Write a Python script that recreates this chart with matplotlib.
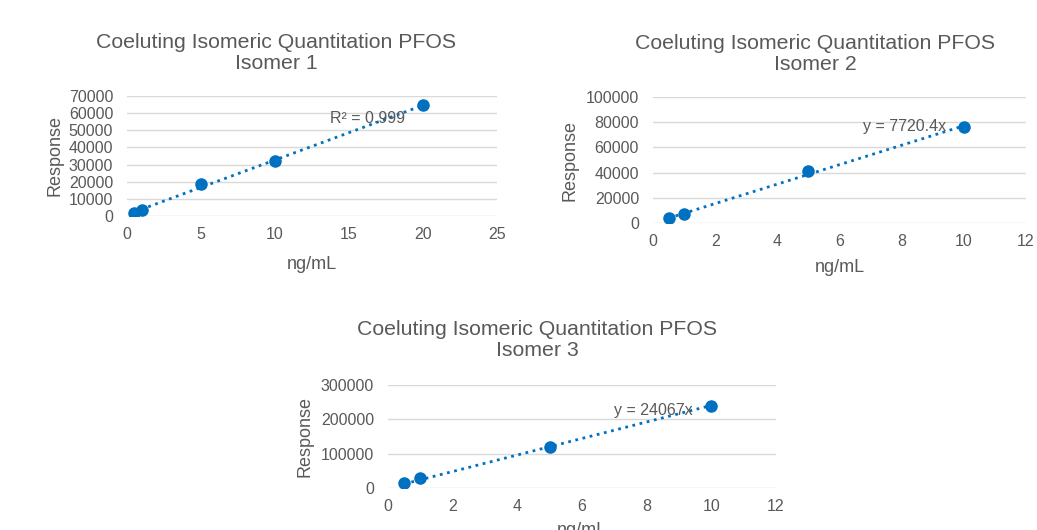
import numpy as np
import matplotlib
matplotlib.use('Agg')
import matplotlib.pyplot as plt

plt.rcParams['font.family'] = ['Liberation Sans', 'DejaVu Sans']

# data
conc1 = [0.5, 1, 5, 10, 20]
resp1 = [1800, 3500, 18500, 32000, 64500]
conc2 = [0.5, 1, 5, 10]
resp2 = [4000, 7000, 41000, 76000]
conc3 = [0.5, 1, 5, 10]
resp3 = [15000, 28000, 120000, 240000]
slope2 = 7720.4
slope3 = 24067

BLUE = '#0070C0'
GREY = '#595959'
GRID = '#D9D9D9'

fig = plt.figure(figsize=(10.37, 5.30), dpi=100)


def setup(ax, title, tpos, xmax, xstep, ymax, ystep, ylab_x, xlab_y):
    ax.set_xlim(0, xmax)
    ax.set_ylim(0, ymax)
    ax.set_xticks(np.arange(0, xmax + 0.1, xstep))
    ax.set_yticks(np.arange(0, ymax + 1, ystep))
    ax.grid(axis='y', color=GRID, lw=1)
    ax.set_axisbelow(True)
    for s in ax.spines.values():
        s.set_visible(False)
    ax.tick_params(length=0, labelsize=11.5, colors=GREY)
    ax.tick_params(axis='y', pad=10)
    ax.tick_params(axis='x', pad=8)
    ax.set_xlabel('ng/mL', fontsize=13, color=GREY, va='center')
    ax.set_ylabel('Response', fontsize=13, color=GREY, va='center')
    ax.xaxis.set_label_coords(0.5, xlab_y)
    ax.yaxis.set_label_coords(ylab_x, 0.5)
    # chart title is centred on the whole chart box, not on the plot area
    fig.text(tpos[0], tpos[1], title, fontsize=15.3, color=GREY,
             ha='center', va='center', linespacing=1.15)


title = 'Coeluting Isomeric Quantitation PFOS\nIsomer {}'

# isomer 1
ax1 = fig.add_axes([0.1225, 0.5925, 0.3568, 0.2264])
setup(ax1, title.format(1), (0.266, 0.9), 25, 5, 70000, 10000, -0.195, -0.408)
m, b = np.polyfit(conc1, resp1, 1)
xx = np.array([min(conc1), max(conc1)])
ax1.plot(xx, m * xx + b, ls=':', color=BLUE, lw=2)
ax1.plot(conc1, resp1, 'o', color=BLUE, ms=8)
ax1.text(13.7, 54500, 'R² = 0.999', fontsize=11.5, color=GREY)

# isomer 2
ax2 = fig.add_axes([0.6297, 0.5792, 0.3597, 0.2377])
setup(ax2, title.format(2), (0.786, 0.898), 12, 2, 100000, 20000, -0.223, -0.357)
xx = np.array([min(conc2), max(conc2)])
ax2.plot(xx, slope2 * xx, ls=':', color=BLUE, lw=2)
ax2.plot(conc2, resp2, 'o', color=BLUE, ms=8)
ax2.text(6.75, 73000, 'y = 7720.4x', fontsize=11.5, color=GREY)

# isomer 3
ax3 = fig.add_axes([0.3742, 0.0792, 0.3741, 0.1943])
setup(ax3, title.format(3), (0.518, 0.358), 12, 2, 300000, 100000, -0.214, -0.417)
xx = np.array([min(conc3), max(conc3)])
ax3.plot(xx, slope3 * xx, ls=':', color=BLUE, lw=2)
ax3.plot(conc3, resp3, 'o', color=BLUE, ms=8)
ax3.text(7.0, 212000, 'y = 24067x', fontsize=11.5, color=GREY)

fig.savefig('out.png', dpi=100)
